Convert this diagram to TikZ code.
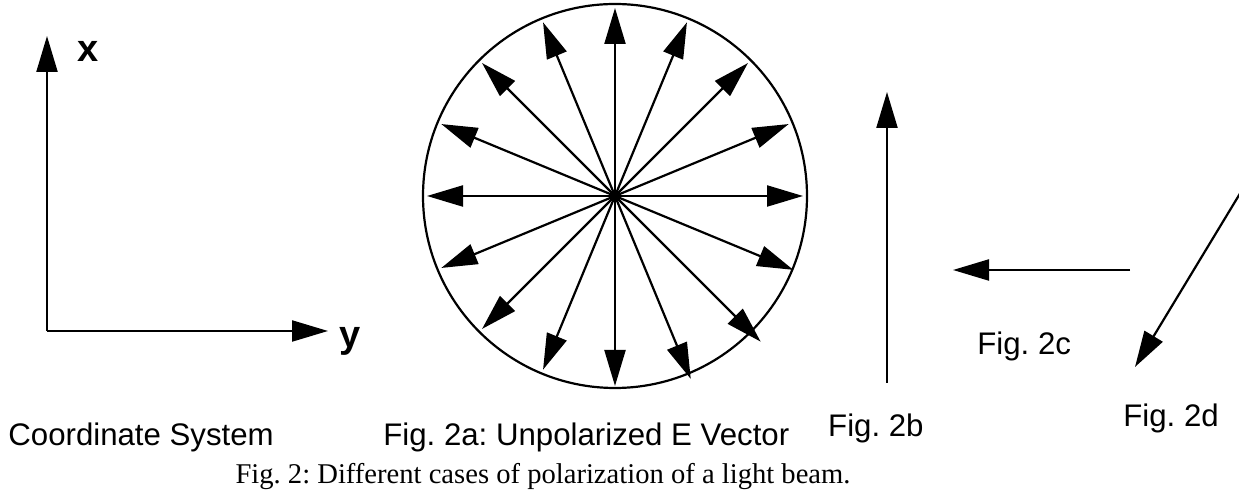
\documentclass[tikz,border=0pt]{standalone}
\usepackage{fontspec}
\setmainfont{Liberation Serif}
\setsansfont{Liberation Sans}
\usetikzlibrary{arrows.meta,calc}
\frenchspacing
\begin{document}
\begin{tikzpicture}[x=0.5pt,y=-0.5pt,
  vec/.style={line width=1.1pt,-{Triangle[length=18pt,width=10.5pt]}},
  lbl/.style={font=\sffamily\fontsize{15.6pt}{18pt}\selectfont,inner sep=0pt,anchor=base west},
  axlbl/.style={font=\sffamily\bfseries\fontsize{19pt}{22pt}\selectfont,inner sep=0pt,anchor=base west},
  captext/.style={font=\rmfamily\fontsize{14.3pt}{17pt}\selectfont,inner sep=0pt,anchor=base}]
\useasboundingbox (0,0) rectangle (1239,490);
\clip (0,0) rectangle (1239,490);
% coordinate system
\coordinate (orig) at (47,331);
\coordinate (xtip) at (47,36);
\coordinate (ytip) at (328,331);
\draw[vec] (orig) -- (xtip);
\draw[vec] (orig) -- (ytip);
\node[axlbl] (xl) at (77,62) {x};
\node[axlbl] (yl) at (339,348) {y};
% unpolarized
\coordinate (O) at (615,196);
\draw[line width=1.1pt] (O) circle[radius=192];
\foreach \a/\r [count=\i] in {0/188,22.5/188,45/188,67.5/188,90/188,112.5/188,135/188,157.5/188,180/188,202.5/188,225/188,247.5/188,270/190,292.5/198,315/206,337.5/193}{
  \coordinate (t\i) at ($(O)+({\r*cos(\a)},{-\r*sin(\a)})$);
}
\foreach \i in {1,...,16}{\draw[vec] (O) -- (t\i);}
% Fig 2b
\coordinate (b0) at (887,383);
\coordinate (b1) at (887,92);
\draw[vec] (b0) -- (b1);
% Fig 2c
\coordinate (c0) at (1130,270);
\coordinate (c1) at (953,270);
\draw[vec] (c0) -- (c1);
% Fig 2d
\coordinate (d0) at (1250,177);
\coordinate (d1) at (1135,367);
\draw[vec] (d0) -- (d1);
% labels
\node[lbl] (lcs) at (8,446) {Coordinate System};
\node[lbl] (l2a) at (383,446) {Fig. 2a: Unpolarized E Vector};
\node[lbl,anchor=base east] (l2b) at (924,437) {Fig. 2b};
\node[lbl] (l2c) at (977,355) {Fig. 2c};
\node[lbl] (l2d) at (1123,427) {Fig. 2d};
\node[captext] (capt) at (543,484) {Fig. 2: Different cases of polarization of a light beam.};
\end{tikzpicture}
\end{document}
